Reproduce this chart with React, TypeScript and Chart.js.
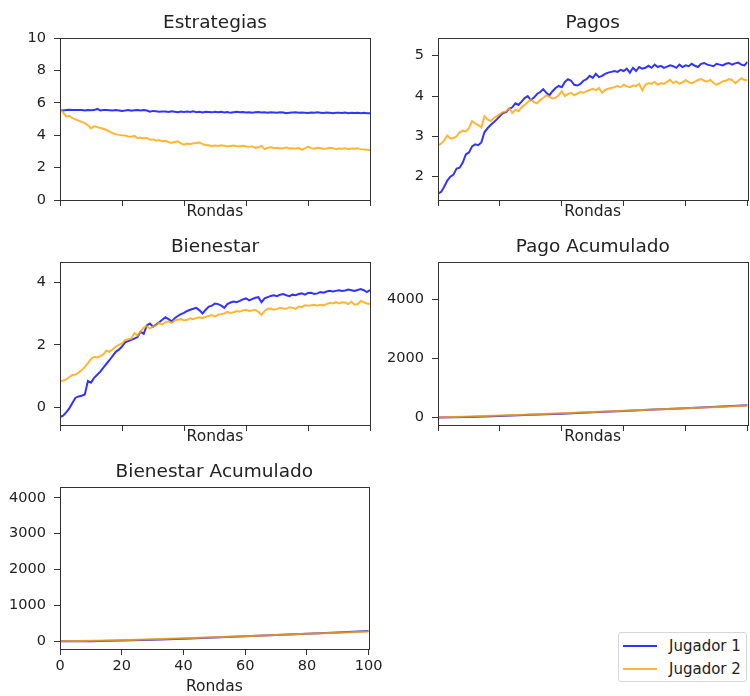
import React, { useEffect, useRef } from 'react';
import { Chart, registerables } from 'chart.js';

Chart.register(...registerables);

// ---------- data ----------
const ROUNDS: number[] = Array.from({ length: 101 }, (_, i) => i);
const CUM_ROUNDS = [0, 10, 20, 30, 40, 50, 60, 70, 80, 90, 100];
const X_TICKS = [0, 20, 40, 60, 80, 100];
const SERIES_NAMES = ['Jugador 1', 'Jugador 2'];
const X_LABEL = 'Rondas';

const ESTR_TITLE = 'Estrategias';
const ESTR_Y_TICKS = [0, 2, 4, 6, 8, 10];
const ESTR_J1 = [5.55,5.52,5.55,5.57,5.56,5.55,5.56,5.55,5.53,5.56,
5.54,5.55,5.62,5.53,5.55,5.56,5.54,5.52,5.55,5.53,
5.50,5.52,5.55,5.51,5.54,5.56,5.53,5.56,5.52,5.45,
5.50,5.48,5.45,5.47,5.46,5.44,5.48,5.45,5.42,5.46,
5.44,5.46,5.43,5.47,5.42,5.44,5.40,5.45,5.43,5.41,
5.45,5.42,5.44,5.40,5.43,5.38,5.42,5.44,5.41,5.43,
5.40,5.42,5.38,5.41,5.43,5.40,5.42,5.39,5.41,5.40,
5.38,5.42,5.40,5.35,5.38,5.40,5.41,5.38,5.40,5.39,
5.37,5.40,5.38,5.41,5.39,5.37,5.40,5.38,5.36,5.39,
5.38,5.37,5.40,5.36,5.38,5.37,5.39,5.36,5.38,5.35,5.36];
const ESTR_J2 = [5.60,5.40,5.15,5.20,5.05,4.98,4.90,4.82,4.75,4.62,
4.42,4.55,4.50,4.45,4.40,4.32,4.22,4.12,4.05,4.02,
4.00,3.98,3.92,3.90,3.96,3.82,3.85,3.80,3.84,3.72,
3.74,3.66,3.70,3.62,3.65,3.58,3.52,3.58,3.62,3.50,
3.42,3.48,3.45,3.50,3.52,3.56,3.45,3.40,3.38,3.32,
3.36,3.34,3.38,3.35,3.30,3.34,3.36,3.32,3.30,3.34,
3.30,3.28,3.32,3.22,3.26,3.34,3.14,3.22,3.25,3.20,
3.22,3.18,3.20,3.24,3.18,3.20,3.16,3.22,3.10,3.18,
3.30,3.20,3.16,3.22,3.20,3.16,3.18,3.22,3.20,3.14,
3.18,3.16,3.20,3.14,3.18,3.16,3.20,3.14,3.12,3.10,3.09];

const PAGOS_TITLE = 'Pagos';
const PAGOS_Y_TICKS = [2, 3, 4, 5];
const PAGOS_J1 = [1.58,1.62,1.75,1.90,2.00,2.05,2.20,2.22,2.35,2.55,
2.60,2.75,2.80,2.78,2.85,3.10,3.20,3.28,3.35,3.42,
3.50,3.58,3.60,3.68,3.72,3.82,3.78,3.86,3.95,4.00,
3.90,3.96,4.05,4.10,4.17,4.08,4.02,4.12,4.20,4.25,
4.22,4.35,4.42,4.38,4.28,4.26,4.30,4.38,4.42,4.50,
4.45,4.55,4.47,4.50,4.55,4.58,4.60,4.62,4.60,4.65,
4.62,4.68,4.58,4.70,4.62,4.72,4.68,4.70,4.75,4.70,
4.78,4.72,4.75,4.70,4.73,4.76,4.74,4.70,4.78,4.72,
4.76,4.74,4.80,4.75,4.72,4.80,4.82,4.78,4.76,4.74,
4.80,4.78,4.76,4.80,4.82,4.78,4.81,4.83,4.78,4.76,4.85];
const PAGOS_J2 = [2.78,2.82,2.90,3.02,2.95,2.96,3.00,3.10,3.14,3.12,
3.20,3.38,3.32,3.28,3.22,3.50,3.42,3.38,3.45,3.50,
3.55,3.60,3.62,3.70,3.58,3.66,3.62,3.72,3.78,3.85,
3.92,3.85,3.82,3.90,3.95,4.02,3.98,3.94,3.96,4.02,
4.12,4.00,4.05,4.08,4.02,4.06,4.10,4.08,4.12,4.15,
4.18,4.14,4.20,4.08,4.15,4.18,4.20,4.22,4.25,4.22,
4.28,4.24,4.22,4.26,4.25,4.30,4.14,4.28,4.32,4.30,
4.35,4.28,4.32,4.30,4.35,4.40,4.32,4.36,4.30,4.34,
4.40,4.34,4.32,4.36,4.40,4.42,4.38,4.36,4.40,4.33,
4.28,4.32,4.36,4.38,4.42,4.40,4.32,4.38,4.44,4.40,4.40];

const BIEN_TITLE = 'Bienestar';
const BIEN_Y_TICKS = [0, 2, 4];
const BIEN_J1 = [-0.30,-0.25,-0.15,-0.02,0.15,0.32,0.36,0.38,0.42,0.85,
0.80,0.95,1.05,1.15,1.28,1.40,1.52,1.65,1.78,1.85,
1.95,2.08,2.12,2.16,2.20,2.25,2.42,2.35,2.62,2.68,
2.58,2.65,2.72,2.80,2.88,2.82,2.75,2.85,2.92,2.98,
3.02,3.08,3.12,3.15,3.18,3.10,3.00,3.12,3.22,3.25,
3.32,3.30,3.25,3.18,3.30,3.35,3.38,3.36,3.40,3.45,
3.48,3.42,3.46,3.50,3.52,3.36,3.48,3.52,3.56,3.58,
3.55,3.60,3.62,3.58,3.55,3.60,3.58,3.62,3.64,3.60,
3.65,3.66,3.62,3.64,3.68,3.66,3.70,3.72,3.70,3.72,
3.74,3.72,3.73,3.76,3.74,3.72,3.75,3.78,3.74,3.68,3.75];
const BIEN_J2 = [0.85,0.86,0.90,0.98,1.04,1.06,1.12,1.20,1.30,1.42,
1.55,1.62,1.60,1.64,1.70,1.82,1.78,1.86,1.95,2.00,
2.05,2.15,2.18,2.20,2.38,2.30,2.42,2.55,2.60,2.52,
2.58,2.62,2.70,2.65,2.72,2.75,2.70,2.78,2.80,2.82,
2.78,2.80,2.85,2.82,2.86,2.88,2.85,2.90,2.92,2.95,
2.90,2.96,2.98,3.00,3.05,3.02,3.04,3.08,3.06,3.10,
3.12,3.08,3.10,3.12,3.05,2.95,3.08,3.15,3.16,3.12,
3.14,3.18,3.16,3.15,3.20,3.18,3.15,3.22,3.20,3.26,
3.25,3.26,3.28,3.25,3.28,3.26,3.30,3.34,3.32,3.36,
3.32,3.36,3.35,3.30,3.38,3.28,3.30,3.40,3.36,3.32,3.30];

const PAGO_AC_TITLE = 'Pago Acumulado';
const PAGO_AC_Y_TICKS = [0, 2000, 4000];
const PAGO_AC_J1 = [1.6, 24, 55, 92, 133, 177, 223, 270, 317, 365, 413];
const PAGO_AC_J2 = [2.8, 34, 69, 107, 147, 188, 230, 273, 317, 361, 405];

const BIEN_AC_TITLE = 'Bienestar Acumulado';
const BIEN_AC_Y_TICKS = [0, 1000, 2000, 3000, 4000];
const BIEN_AC_J1 = [-0.3, 4, 20, 44, 73, 104, 138, 173, 209, 247, 284];
const BIEN_AC_J2 = [0.85, 13, 32, 57, 84, 113, 143, 174, 207, 240, 273];

// ---------- style ----------
const FONT = '"DejaVu Sans", "Liberation Sans", sans-serif';
const TEXT = '#222222';
const SPINE = '#333333';
const BLUE = 'rgba(0,0,255,0.8)';
const ORANGE = 'rgba(255,165,0,0.8)';

const panelPlugin = {
  id: 'panelFrame',
  afterDatasetsDraw(chart: any, _args: any, opts: any) {
    const { ctx, chartArea: a } = chart;
    ctx.save();
    ctx.strokeStyle = SPINE;
    ctx.lineWidth = 1;
    const l = Math.round(a.left) + 0.5;
    const r = Math.round(a.right) + 0.5;
    const t = Math.round(a.top) + 0.5;
    const b = Math.round(a.bottom) + 0.5;
    ctx.strokeRect(l, t, r - l, b - t);
    ctx.fillStyle = TEXT;
    ctx.font = `18.5px ${FONT}`;
    ctx.textAlign = 'center';
    ctx.textBaseline = 'alphabetic';
    ctx.fillText(opts.title || '', (a.left + a.right) / 2, a.top - 10);
    ctx.restore();
  },
};

type PanelProps = {
  title: string;
  xs: number[];
  j1: number[];
  j2: number[];
  yMin: number;
  yMax: number;
  yTicks: number[];
  showXLabels: boolean;
  left: number;
  top: number;
  width: number;
  height: number;
  padTop: number;
  padRight: number;
  xH: number;
  titlePadB: number;
};

function Panel(p: PanelProps) {
  const ref = useRef<HTMLCanvasElement | null>(null);
  useEffect(() => {
    if (!ref.current) return;
    const chart = new Chart(ref.current, {
      type: 'line',
      data: {
        datasets: [
          {
            label: SERIES_NAMES[0],
            data: p.xs.map((x, i) => ({ x, y: p.j1[i] })),
            borderColor: BLUE,
            backgroundColor: BLUE,
            borderWidth: 2,
            pointRadius: 0,
            tension: 0,
            fill: false,
            order: 1,
          },
          {
            label: SERIES_NAMES[1],
            data: p.xs.map((x, i) => ({ x, y: p.j2[i] })),
            borderColor: ORANGE,
            backgroundColor: ORANGE,
            borderWidth: 2,
            pointRadius: 0,
            tension: 0,
            fill: false,
            order: 0,
          },
        ],
      },
      options: {
        responsive: false,
        animation: false,
        devicePixelRatio: 1,
        layout: { padding: { top: p.padTop, right: p.padRight, left: 0, bottom: 0 } },
        plugins: {
          legend: { display: false },
          tooltip: { enabled: false },
          panelFrame: { title: p.title },
        } as any,
        scales: {
          x: {
            type: 'linear',
            min: 0,
            max: 100,
            afterBuildTicks: (s: any) => {
              s.ticks = X_TICKS.map((v) => ({ value: v }));
            },
            afterFit: (s: any) => {
              s.height = p.xH;
            },
            ticks: {
              autoSkip: false,
              maxRotation: 0,
              padding: 2.5,
              color: TEXT,
              font: { family: FONT, size: 14.5 },
              callback: (v: any) => (p.showXLabels ? String(v) : ''),
            },
            grid: {
              display: true,
              drawOnChartArea: false,
              drawTicks: true,
              tickLength: 6,
              color: SPINE,
            },
            border: { display: false },
            title: {
              display: true,
              text: X_LABEL,
              color: TEXT,
              font: { family: FONT, size: 15.5, lineHeight: 1 },
              padding: { top: 0, bottom: p.titlePadB },
            },
          },
          y: {
            type: 'linear',
            min: p.yMin,
            max: p.yMax,
            afterBuildTicks: (s: any) => {
              s.ticks = p.yTicks.map((v) => ({ value: v }));
            },
            afterFit: (s: any) => {
              s.width = 60;
            },
            ticks: {
              padding: 8,
              color: TEXT,
              font: { family: FONT, size: 14.5 },
              callback: (v: any) => String(v),
            },
            grid: {
              display: true,
              drawOnChartArea: false,
              drawTicks: true,
              tickLength: 6,
              color: SPINE,
            },
            border: { display: false },
          },
        },
      } as any,
      plugins: [panelPlugin as any],
    });
    return () => chart.destroy();
  }, []);
  return (
    <canvas
      ref={ref}
      width={p.width}
      height={p.height}
      style={{ position: 'absolute', left: p.left, top: p.top, width: p.width, height: p.height }}
    />
  );
}

function Legend() {
  const rowStyle = (top: number): React.CSSProperties => ({
    position: 'absolute',
    left: 0,
    top,
    height: 20,
    width: 130,
  });
  const lineStyle = (color: string): React.CSSProperties => ({
    position: 'absolute',
    left: 4,
    top: 9,
    width: 34,
    height: 2,
    background: color,
  });
  const textStyle: React.CSSProperties = {
    position: 'absolute',
    left: 50,
    top: 0,
    fontFamily: FONT,
    fontSize: 15,
    lineHeight: '20px',
    color: TEXT,
    whiteSpace: 'nowrap',
  };
  return (
    <div
      style={{
        position: 'absolute',
        left: 618,
        top: 632,
        width: 129,
        height: 50,
        border: '1px solid #d6d6d6',
        borderRadius: 3,
        background: '#fff',
        boxSizing: 'border-box',
      }}
    >
      <div style={rowStyle(3)}>
        <div style={lineStyle(BLUE)} />
        <span style={textStyle}>{SERIES_NAMES[0]}</span>
      </div>
      <div style={rowStyle(26)}>
        <div style={lineStyle(ORANGE)} />
        <span style={textStyle}>{SERIES_NAMES[1]}</span>
      </div>
    </div>
  );
}

export default function App() {
  const L = { left: 0, width: 385, padRight: 15 };
  const R = { left: 378, width: 372, padRight: 1 };
  const R1 = { top: 0, height: 220, padTop: 38, xH: 20, titlePadB: 0.5 };
  const R2 = { top: 230, height: 215, padTop: 32, xH: 20, titlePadB: 0.5 };
  const R3 = { top: 455, height: 240, padTop: 32, xH: 46, titlePadB: 0 };
  return (
    <div style={{ position: 'absolute', left: 0, top: 0, width: 750, height: 696, background: '#fff' }}>
      <Panel title={ESTR_TITLE} xs={ROUNDS} j1={ESTR_J1} j2={ESTR_J2} yMin={0} yMax={10}
        yTicks={ESTR_Y_TICKS} showXLabels={false} {...L} {...R1} />
      <Panel title={PAGOS_TITLE} xs={ROUNDS} j1={PAGOS_J1} j2={PAGOS_J2} yMin={1.42} yMax={5.44}
        yTicks={PAGOS_Y_TICKS} showXLabels={false} {...R} {...R1} />
      <Panel title={BIEN_TITLE} xs={ROUNDS} j1={BIEN_J1} j2={BIEN_J2} yMin={-0.55} yMax={4.64}
        yTicks={BIEN_Y_TICKS} showXLabels={false} {...L} {...R2} />
      <Panel title={PAGO_AC_TITLE} xs={CUM_ROUNDS} j1={PAGO_AC_J1} j2={PAGO_AC_J2} yMin={-250} yMax={5250}
        yTicks={PAGO_AC_Y_TICKS} showXLabels={false} {...R} {...R2} />
      <Panel title={BIEN_AC_TITLE} xs={CUM_ROUNDS} j1={BIEN_AC_J1} j2={BIEN_AC_J2} yMin={-215} yMax={4300}
        yTicks={BIEN_AC_Y_TICKS} showXLabels={true} {...L} {...R3} />
      <Legend />
    </div>
  );
}
